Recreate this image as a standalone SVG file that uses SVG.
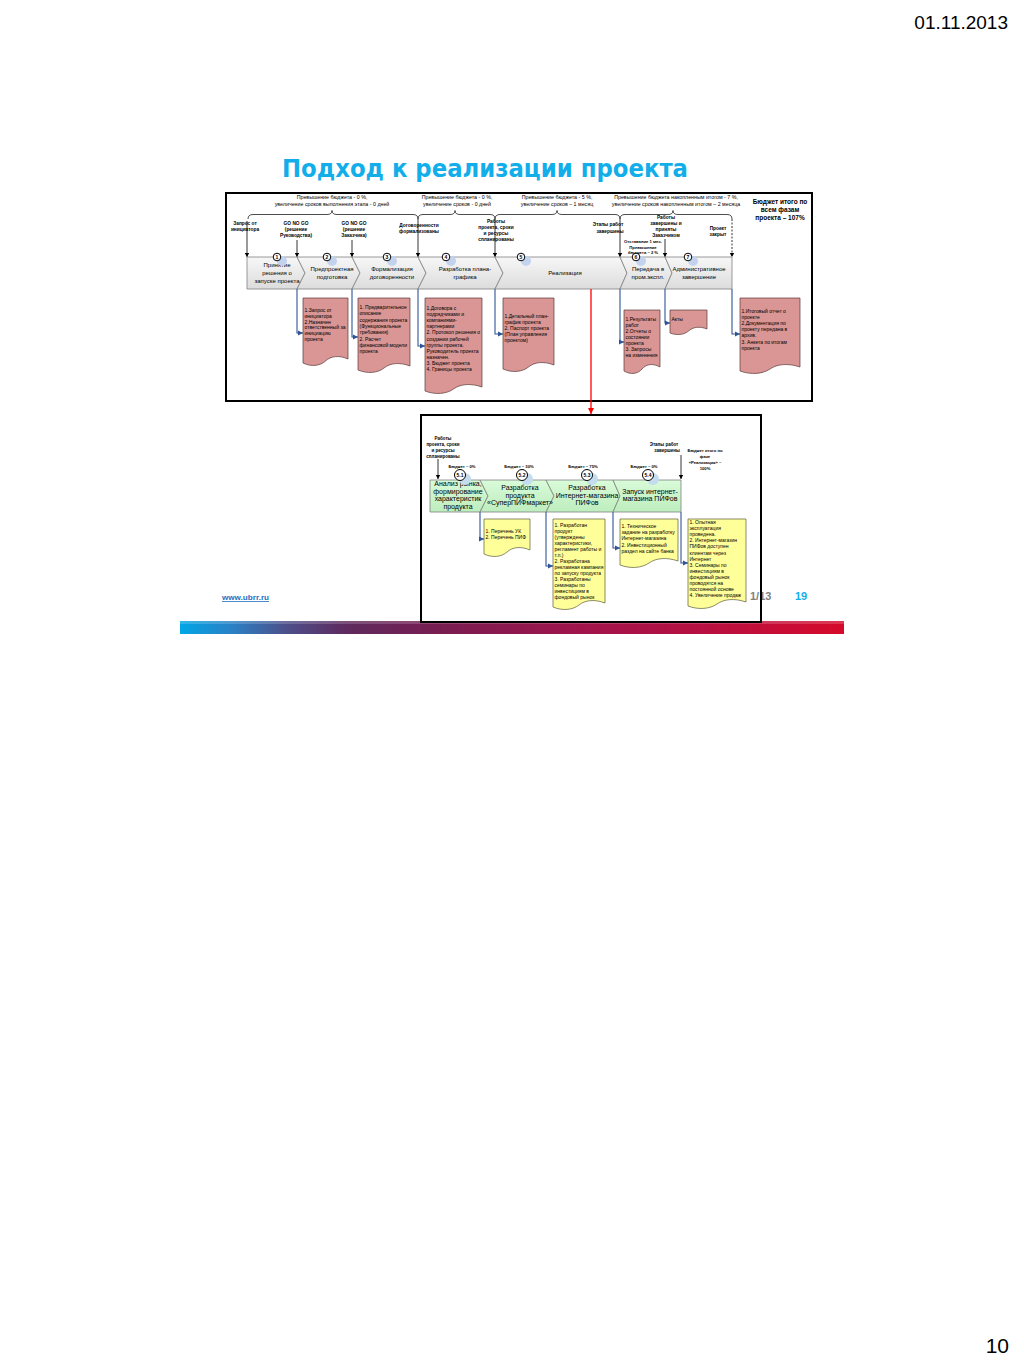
<svg xmlns="http://www.w3.org/2000/svg" width="1024" height="1365" viewBox="0 0 1024 1365">
<style>
.t{font-family:"Liberation Sans",Arial,sans-serif;fill:#000}
.b{font-weight:bold}
.m{text-anchor:middle}
.ml{font-size:4.8px;font-weight:bold;text-anchor:middle}
.bl{font-size:5.3px;text-anchor:middle}
.cl{font-size:6px;text-anchor:middle}
.gl{font-size:7px;text-anchor:middle}
.dt{font-size:5px}
.brace{fill:none;stroke:#000;stroke-width:0.7}
.ms{stroke:#000;stroke-width:0.8;fill:none}
.chev{fill:url(#grayG);stroke:#808080;stroke-width:0.8}
.gchev{fill:url(#greenG);stroke:#808080;stroke-width:0.8}
.pink{fill:#d99694;stroke:#5a3a3a;stroke-width:0.7}
.yel{fill:#ffff99;stroke:#5a5a3a;stroke-width:0.7}
.con{stroke:#2f5597;stroke-width:1.1;fill:none}
.frame{fill:none;stroke:#000;stroke-width:2}
.num{fill:#fff;stroke:#000;stroke-width:1}
.sh{fill:#c3d3ee}
</style>
<defs>
<linearGradient id="grayG" x1="0" y1="0" x2="0" y2="1"><stop offset="0" stop-color="#f7f7f7"/><stop offset="1" stop-color="#dcdcdc"/></linearGradient>
<linearGradient id="greenG" x1="0" y1="0" x2="0" y2="1"><stop offset="0" stop-color="#d9fbd9"/><stop offset="1" stop-color="#bdedbd"/></linearGradient>
<linearGradient id="barG" x1="0" y1="0" x2="1" y2="0">
<stop offset="0" stop-color="#00a6e6"/><stop offset="0.08" stop-color="#2b80c4"/><stop offset="0.16" stop-color="#4d4f8a"/><stop offset="0.25" stop-color="#5e2a5e"/><stop offset="0.4" stop-color="#7a1c50"/><stop offset="0.6" stop-color="#a0144c"/><stop offset="0.8" stop-color="#b80f40"/><stop offset="1" stop-color="#d60a2a"/>
</linearGradient>
<marker id="ab" markerWidth="6" markerHeight="6" refX="5" refY="3" orient="auto" markerUnits="userSpaceOnUse"><path d="M0,0.5 L5,3 L0,5.5 Z" fill="#2f5597"/></marker>
<marker id="ak" markerWidth="6" markerHeight="6" refX="4" refY="3" orient="auto" markerUnits="userSpaceOnUse"><path d="M0,0.8 L4,3 L0,5.2 Z" fill="#000"/></marker>
<marker id="ar" markerWidth="8" markerHeight="8" refX="6" refY="4" orient="auto" markerUnits="userSpaceOnUse"><path d="M0,1 L6,4 L0,7 Z" fill="#ff0000"/></marker>
</defs>
<rect width="1024" height="1365" fill="#fff"/>

<text class="t" x="1008" y="29" font-size="19" text-anchor="end">01.11.2013</text>
<text class="t" x="1009" y="1353" font-size="21" text-anchor="end">10</text>

<text x="282" y="177" font-family="'DejaVu Sans',Verdana,sans-serif" font-weight="bold" font-size="25" fill="#12aeea" textLength="406" lengthAdjust="spacingAndGlyphs">Подход к реализации проекта</text>

<!-- footer -->
<text class="t" x="222" y="600" font-size="8" font-weight="bold" style="fill:#1f6fc0;text-decoration:underline" textLength="47" lengthAdjust="spacingAndGlyphs">www.ubrr.ru</text>
<text class="t b" x="795" y="600" font-size="11" style="fill:#12aeea">19</text>
<rect x="180" y="621" width="664" height="13" fill="url(#barG)"/>
<rect x="180" y="621" width="664" height="3" fill="#fff" opacity="0.18"/>

<!-- upper frame -->
<rect x="226" y="193" width="586" height="208" fill="#fff" stroke="#000" stroke-width="2"/>

<g id="braces">
<path class="brace" d="M248,219 Q248,214.5 253,214.5 H327 Q332,214.5 332,210.5 Q332,214.5 337,214.5 H413 Q418,214.5 418,219"/>
<path class="brace" d="M418,219 Q418,214.5 423,214.5 H450 Q455,214.5 455,210.5 Q455,214.5 460,214.5 H490 Q495,214.5 495,219"/>
<path class="brace" d="M495,219 Q495,214.5 500,214.5 H552 Q557,214.5 557,210.5 Q557,214.5 562,214.5 H615 Q620,214.5 620,219"/>
<path class="brace" d="M620,219 Q620,214.5 625,214.5 H668 Q673,214.5 673,210.5 Q673,214.5 678,214.5 H727 Q732,214.5 732,219"/>
<text class="t bl" x="332" y="199">Превышение бюджета - 0 %,</text>
<text class="t bl" x="332" y="206">увеличение сроков выполнения этапа - 0 дней</text>
<text class="t bl" x="457" y="199">Превышение бюджета - 0 %,</text>
<text class="t bl" x="457" y="206">увеличение сроков - 0 дней</text>
<text class="t bl" x="557" y="199">Превышение бюджета - 5 %,</text>
<text class="t bl" x="557" y="206">увеличение сроков – 1 месяц</text>
<text class="t bl" x="676" y="199">Превышение бюджета накопленным итогом - 7 %,</text>
<text class="t bl" x="676" y="206">увеличение сроков накопленным итогом – 2 месяца</text>
<text class="t b m" x="780" y="204" font-size="6.5">Бюджет итого по</text>
<text class="t b m" x="780" y="212" font-size="6.5">всем фазам</text>
<text class="t b m" x="780" y="220" font-size="6.5">проекта  – 107%</text>
</g>

<g id="milestones">
<text class="t ml" x="245" y="225">Запрос  от</text>
<text class="t ml" x="245" y="231">инициатора</text>
<text class="t ml" x="296" y="225">GO NO GO</text>
<text class="t ml" x="296" y="231">(решение</text>
<text class="t ml" x="296" y="237">Руководства)</text>
<text class="t ml" x="354" y="225">GO NO GO</text>
<text class="t ml" x="354" y="231">(решение</text>
<text class="t ml" x="354" y="237">Заказчика)</text>
<text class="t ml" x="419" y="227">Договоренности</text>
<text class="t ml" x="419" y="233">формализованы</text>
<text class="t ml" x="496" y="223">Работы</text>
<text class="t ml" x="496" y="229">проекта, сроки</text>
<text class="t ml" x="496" y="235">и ресурсы</text>
<text class="t ml" x="496" y="241">спланированы</text>
<text class="t ml" x="608" y="226">Этапы работ</text>
<text class="t ml" x="610" y="233">завершены</text>
<text class="t ml" x="666" y="219">Работы</text>
<text class="t ml" x="666" y="225">завершены и</text>
<text class="t ml" x="666" y="231">приняты</text>
<text class="t ml" x="666" y="237">Заказчиком</text>
<text class="t ml" x="718" y="230">Проект</text>
<text class="t ml" x="718" y="236">закрыт</text>
<text class="t ml" x="643" y="243" style="font-size:4.2px">Отставание 1 мес.</text>
<text class="t ml" x="643" y="248.5" style="font-size:4.2px">Превышение</text>
<text class="t ml" x="643" y="254" style="font-size:4.2px">бюджета – 2 %</text>
<line class="ms" x1="247" y1="221" x2="247" y2="257" marker-end="url(#ak)"/>
<line class="ms" x1="297" y1="240" x2="297" y2="257" marker-end="url(#ak)"/>
<line class="ms" x1="352" y1="240" x2="352" y2="257" marker-end="url(#ak)"/>
<line class="ms" x1="418" y1="219" x2="418" y2="257" marker-end="url(#ak)"/>
<line class="ms" x1="495" y1="219" x2="495" y2="257" marker-end="url(#ak)"/>
<line class="ms" x1="620" y1="219" x2="620" y2="257" marker-end="url(#ak)"/>
<line class="ms" x1="665" y1="239" x2="665" y2="257" marker-end="url(#ak)"/>
<line class="ms" x1="732" y1="219" x2="732" y2="257" stroke-dasharray="2,1.5" marker-end="url(#ak)"/>
</g>

<g id="phases">
<polygon class="chev" points="247,257 297,257 305,273 297,289 247,289"/>
<polygon class="chev" points="297,257 352,257 360,273 352,289 297,289 305,273"/>
<polygon class="chev" points="352,257 418,257 426,273 418,289 352,289 360,273"/>
<polygon class="chev" points="418,257 495,257 503,273 495,289 418,289 426,273"/>
<polygon class="chev" points="495,257 620,257 627,273 620,289 495,289 503,273"/>
<polygon class="chev" points="620,257 665,257 672,273 665,289 620,289 627,273"/>
<polygon class="chev" points="665,257 732,257 732,289 665,289 672,273"/>
<text class="t cl" x="277" y="267">Принятие</text>
<text class="t cl" x="277" y="275">решения о</text>
<text class="t cl" x="277" y="283">запуске проекта</text>
<text class="t cl" x="332" y="271">Предпроектная</text>
<text class="t cl" x="332" y="279">подготовка</text>
<text class="t cl" x="392" y="271">Формализация</text>
<text class="t cl" x="392" y="279">договоренности</text>
<text class="t cl" x="465" y="271">Разработка плана-</text>
<text class="t cl" x="465" y="279">графика</text>
<text class="t cl" x="565" y="275">Реализация</text>
<text class="t cl" x="648" y="271">Передача в</text>
<text class="t cl" x="648" y="279">пром.экспл.</text>
<text class="t cl" x="699" y="271">Административное</text>
<text class="t cl" x="699" y="279">завершение</text>
</g>

<g id="numbers">
<circle class="sh" cx="282" cy="261" r="5"/><circle class="num" cx="277" cy="257" r="3.8"/><text class="t b m" x="277" y="259" font-size="5">1</text>
<circle class="sh" cx="332" cy="261" r="5"/><circle class="num" cx="327" cy="257" r="3.8"/><text class="t b m" x="327" y="259" font-size="5">2</text>
<circle class="sh" cx="392" cy="261" r="5"/><circle class="num" cx="387" cy="257" r="3.8"/><text class="t b m" x="387" y="259" font-size="5">3</text>
<circle class="sh" cx="451" cy="261" r="5"/><circle class="num" cx="446" cy="257" r="3.8"/><text class="t b m" x="446" y="259" font-size="5">4</text>
<circle class="sh" cx="526" cy="261" r="5"/><circle class="num" cx="521" cy="257" r="3.8"/><text class="t b m" x="521" y="259" font-size="5">5</text>
<circle class="sh" cx="641" cy="261" r="5"/><circle class="num" cx="636" cy="257" r="3.8"/><text class="t b m" x="636" y="259" font-size="5">6</text>
<circle class="sh" cx="693" cy="261" r="5"/><circle class="num" cx="688" cy="257" r="3.8"/><text class="t b m" x="688" y="259" font-size="5">7</text>
</g>

<g id="connectors">
<polyline class="con" points="297,289 297,333 303,333" marker-end="url(#ab)"/>
<polyline class="con" points="352,289 352,337 358,337" marker-end="url(#ab)"/>
<polyline class="con" points="418,289 418,346 425,346" marker-end="url(#ab)"/>
<polyline class="con" points="495,289 495,334 503,334" marker-end="url(#ab)"/>
<polyline class="con" points="620,289 620,342 624,342" marker-end="url(#ab)"/>
<polyline class="con" points="665,289 665,323 670,323" marker-end="url(#ab)"/>
<polyline class="con" points="732,289 732,334 740,334" marker-end="url(#ab)"/>
<line x1="591" y1="289" x2="591" y2="414" stroke="#ff0000" stroke-width="1.3" marker-end="url(#ar)"/>
</g>

<g id="doc1">
<path class="pink" d="M303,298 H348 V359 C339,355 330.9,356 325.5,361 C320.1,366 311.1,367 303,363 Z"/>
<text class="t dt" x="304.5" y="312">1.Запрос от</text>
<text class="t dt" x="304.5" y="317.8">инициатора</text>
<text class="t dt" x="304.5" y="323.6">2.Назначен</text>
<text class="t dt" x="304.5" y="329.4">ответственный за</text>
<text class="t dt" x="304.5" y="335.2">инициацию</text>
<text class="t dt" x="304.5" y="341">проекта</text>
</g>
<g id="doc2">
<path class="pink" d="M358,298 H410 V366 C399.6,362 390.2,363 384,368 C377.8,373 367.4,374 358,370 Z"/>
<text class="t dt" x="359.5" y="309">1. Предварительное</text>
<text class="t dt" x="359.5" y="315.3">описание</text>
<text class="t dt" x="359.5" y="321.6">содержания проекта</text>
<text class="t dt" x="359.5" y="327.9">(Функциональные</text>
<text class="t dt" x="359.5" y="334.2">требования)</text>
<text class="t dt" x="359.5" y="340.5">2. Расчет</text>
<text class="t dt" x="359.5" y="346.8">финансовой модели</text>
<text class="t dt" x="359.5" y="353.1">проекта</text>
</g>
<g id="doc3">
<path class="pink" d="M425,298 H482 V387 C470.6,383 460.3,384 453.5,389 C446.7,394 435.3,395 425,391 Z"/>
<text class="t dt" x="426.5" y="310">1.Договора с</text>
<text class="t dt" x="426.5" y="316.1">подрядчиками и</text>
<text class="t dt" x="426.5" y="322.2">компаниями-</text>
<text class="t dt" x="426.5" y="328.3">партнерами</text>
<text class="t dt" x="426.5" y="334.4">2. Протокол решения о</text>
<text class="t dt" x="426.5" y="340.5">создании рабочей</text>
<text class="t dt" x="426.5" y="346.6">группы проекта.</text>
<text class="t dt" x="426.5" y="352.7">Руководитель проекта</text>
<text class="t dt" x="426.5" y="358.8">назначен.</text>
<text class="t dt" x="426.5" y="364.9">3. Бюджет проекта</text>
<text class="t dt" x="426.5" y="371">4. Границы проекта</text>
</g>
<g id="doc4">
<path class="pink" d="M503,298 H554 V365 C543.8,361 534.6,362 528.5,367 C522.4,372 512.2,373 503,369 Z"/>
<text class="t dt" x="504.5" y="318">1.Детальный план-</text>
<text class="t dt" x="504.5" y="324">график проекта</text>
<text class="t dt" x="504.5" y="330">2. Паспорт проекта</text>
<text class="t dt" x="504.5" y="336">(План управления</text>
<text class="t dt" x="504.5" y="342">проектом)</text>
</g>
<g id="doc5">
<path class="pink" d="M624,310 H660 V367 C652.8,363 646.3,364 642,369 C637.7,374 630.5,375 624,371 Z"/>
<text class="t dt" x="625.5" y="321">1.Результаты</text>
<text class="t dt" x="625.5" y="327">работ</text>
<text class="t dt" x="625.5" y="333">2.Отчеты о</text>
<text class="t dt" x="625.5" y="339">состоянии</text>
<text class="t dt" x="625.5" y="345">проекта</text>
<text class="t dt" x="625.5" y="351">3.  Запросы</text>
<text class="t dt" x="625.5" y="357">на изменения</text>
</g>
<g id="doc6">
<path class="pink" d="M670,310 H707 V329 C699.6,326 692.9,327 688.5,331 C684.1,335 676.7,335.5 670,333 Z"/>
<text class="t dt" x="671.5" y="321">Акты</text>
</g>
<g id="doc7">
<path class="pink" d="M740,298 H800 V367 C788,363 777.2,364 770,369 C762.8,374 750.8,375 740,371 Z"/>
<text class="t dt" x="741.5" y="313">1.Итоговый отчет о</text>
<text class="t dt" x="741.5" y="319.1">проекте</text>
<text class="t dt" x="741.5" y="325.2">2.Документация по</text>
<text class="t dt" x="741.5" y="331.3">проекту передана в</text>
<text class="t dt" x="741.5" y="337.4">архив.</text>
<text class="t dt" x="741.5" y="343.5">3.  Анкета по итогам</text>
<text class="t dt" x="741.5" y="349.6">проекта</text>
</g>

<!-- lower frame background -->
<rect x="421" y="415" width="340" height="207" fill="#fff" stroke="none"/>

<g id="lower-milestones">
<text class="t ml" x="443" y="439.5" style="font-size:4.5px">Работы</text>
<text class="t ml" x="443" y="445.5" style="font-size:4.5px">проекта, сроки</text>
<text class="t ml" x="443" y="451.5" style="font-size:4.5px">и ресурсы</text>
<text class="t ml" x="443" y="457.5" style="font-size:4.5px">спланированы</text>
<text class="t ml" x="462" y="467.5" style="font-size:4.2px">Бюджет – 0%</text>
<text class="t ml" x="519" y="467.5" style="font-size:4.2px">Бюджет – 30%</text>
<text class="t ml" x="583" y="467.5" style="font-size:4.2px">Бюджет – 75%</text>
<text class="t ml" x="644" y="467.5" style="font-size:4.2px">Бюджет – 0%</text>
<text class="t ml" x="664" y="446" style="font-size:4.5px">Этапы работ</text>
<text class="t ml" x="667" y="452" style="font-size:4.5px">завершены</text>
<text class="t ml" x="705" y="452" style="font-size:4.2px">Бюджет итого по</text>
<text class="t ml" x="705" y="458" style="font-size:4.2px">фазе</text>
<text class="t ml" x="705" y="464" style="font-size:4.2px">«Реализация» –</text>
<text class="t ml" x="705" y="470" style="font-size:4.2px">100%</text>
<line class="ms" x1="438" y1="459" x2="438" y2="479" marker-end="url(#ak)"/>
<line class="ms" x1="681" y1="455" x2="681" y2="479" marker-end="url(#ak)"/>
</g>

<g id="subphases">
<polygon class="gchev" points="430,480 480,480 488,496 480,512 430,512"/>
<polygon class="gchev" points="480,480 546,480 554,496 546,512 480,512 488,496"/>
<polygon class="gchev" points="546,480 613,480 620,496 613,512 546,512 554,496"/>
<polygon class="gchev" points="613,480 681,480 681,512 613,512 620,496"/>
<text class="t gl" x="458" y="486">Анализ рынка,</text>
<text class="t gl" x="458" y="493.5">формирование</text>
<text class="t gl" x="458" y="501">характеристик</text>
<text class="t gl" x="458" y="508.5">продукта</text>
<text class="t gl" x="520" y="490">Разработка</text>
<text class="t gl" x="520" y="497.5">продукта</text>
<text class="t gl" x="520" y="505">«СуперПИФмаркет»</text>
<text class="t gl" x="587" y="490">Разработка</text>
<text class="t gl" x="587" y="497.5">Интернет-магазина</text>
<text class="t gl" x="587" y="505">ПИФов</text>
<text class="t gl" x="650" y="493.5">Запуск интернет-</text>
<text class="t gl" x="650" y="501">магазина ПИФов</text>
<circle cx="465" cy="479" r="6" fill="#c3dcee"/><circle class="num" cx="460" cy="475" r="5.5"/><text class="t b m" x="460" y="477" font-size="5">5.1</text>
<circle cx="527" cy="479" r="6" fill="#c3dcee"/><circle class="num" cx="522" cy="475" r="5.5"/><text class="t b m" x="522" y="477" font-size="5">5.2</text>
<circle cx="592" cy="479" r="6" fill="#c3dcee"/><circle class="num" cx="587" cy="475" r="5.5"/><text class="t b m" x="587" y="477" font-size="5">5.3</text>
<circle cx="653" cy="479" r="6" fill="#c3dcee"/><circle class="num" cx="648" cy="475" r="5.5"/><text class="t b m" x="648" y="477" font-size="5">5.4</text>
</g>

<g id="lower-connectors">
<polyline class="con" points="480,512 480,539 484,539" marker-end="url(#ab)"/>
<polyline class="con" points="546,512 546,566 553,566" marker-end="url(#ab)"/>
<polyline class="con" points="613,512 613,548 620,548" marker-end="url(#ab)"/>
<polyline class="con" points="681,512 681,563 688,563" marker-end="url(#ab)"/>
</g>

<g id="ldoc1">
<path class="yel" d="M484,519 H530 V550 C520.8,546 512.5,547 507,552 C501.5,557 492.3,558 484,554 Z"/>
<text class="t dt" x="485.5" y="533">1. Перечень УК</text>
<text class="t dt" x="485.5" y="539">2. Перечень ПИФ</text>
</g>
<g id="ldoc2">
<path class="yel" d="M553,519 H605 V603 C594.6,599 585.2,600 579,605 C572.8,610 562.4,611 553,607 Z"/>
<text class="t dt" x="554.5" y="527">1. Разработан</text>
<text class="t dt" x="554.5" y="533">продукт</text>
<text class="t dt" x="554.5" y="539">(утверждены</text>
<text class="t dt" x="554.5" y="545">характеристики,</text>
<text class="t dt" x="554.5" y="551">регламент работы и</text>
<text class="t dt" x="554.5" y="557">т.п.)</text>
<text class="t dt" x="554.5" y="563">2. Разработана</text>
<text class="t dt" x="554.5" y="569">рекламная кампания</text>
<text class="t dt" x="554.5" y="575">по запуску продукта</text>
<text class="t dt" x="554.5" y="581">3. Разработаны</text>
<text class="t dt" x="554.5" y="587">семинары по</text>
<text class="t dt" x="554.5" y="593">инвестициям в</text>
<text class="t dt" x="554.5" y="599">фондовый рынок</text>
</g>
<g id="ldoc3">
<path class="yel" d="M620,519 H678 V561 C666.4,557 656,558 649,563 C642,568 630.4,569 620,565 Z"/>
<text class="t dt" x="621.5" y="528">1. Техническое</text>
<text class="t dt" x="621.5" y="534.2">задание на разработку</text>
<text class="t dt" x="621.5" y="540.4">Интернет-магазина</text>
<text class="t dt" x="621.5" y="546.6">2. Инвестиционный</text>
<text class="t dt" x="621.5" y="552.8">раздел на сайте банка</text>
</g>
<g id="ldoc4">
<path class="yel" d="M688,519 H746 V602 C734.4,598 724,599 717,604 C710,609 698.4,610 688,606 Z"/>
<text class="t dt" x="689.5" y="524">1. Опытная</text>
<text class="t dt" x="689.5" y="530.1">эксплуатация</text>
<text class="t dt" x="689.5" y="536.2">проведена.</text>
<text class="t dt" x="689.5" y="542.3">2. Интернет-магазин</text>
<text class="t dt" x="689.5" y="548.4">ПИФов доступен</text>
<text class="t dt" x="689.5" y="554.5">клиентам через</text>
<text class="t dt" x="689.5" y="560.6">Интернет</text>
<text class="t dt" x="689.5" y="566.7">3. Семинары по</text>
<text class="t dt" x="689.5" y="572.8">инвестициям в</text>
<text class="t dt" x="689.5" y="578.9">фондовый рынок</text>
<text class="t dt" x="689.5" y="585">проводятся на</text>
<text class="t dt" x="689.5" y="591.1">постоянной основе</text>
<text class="t dt" x="689.5" y="597.2">4. Увеличение продаж</text>
</g>

<text class="t b" x="750" y="600" font-size="11" style="fill:#7f7f7f">1/13</text>
<rect class="frame" x="421" y="415" width="340" height="207"/>
</svg>
